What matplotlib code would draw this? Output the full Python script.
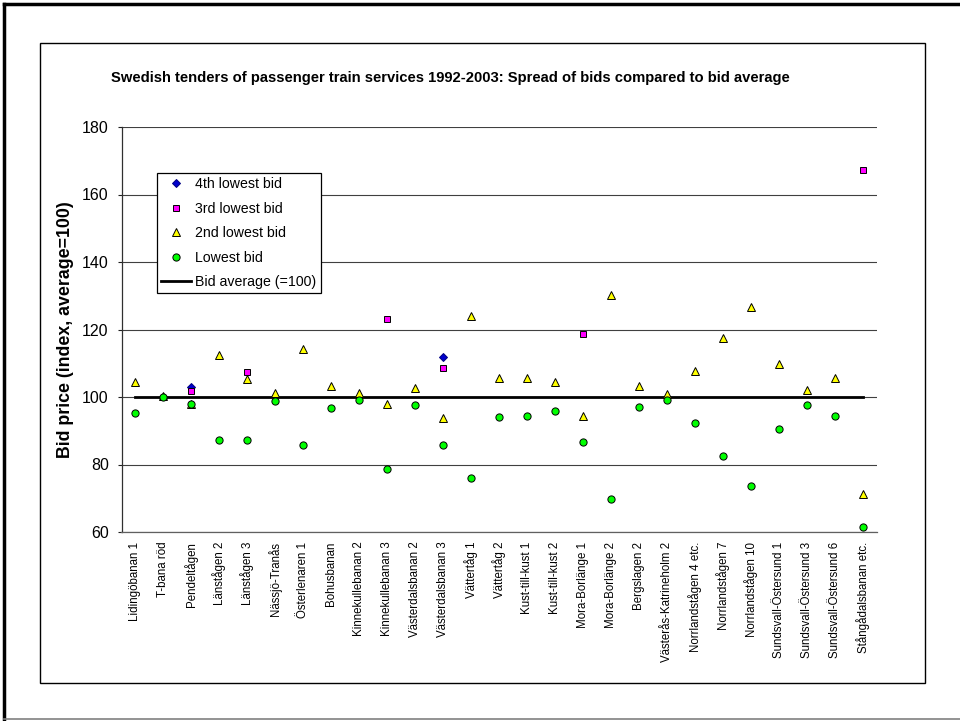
import numpy as np
import matplotlib
matplotlib.use("Agg")
import matplotlib.pyplot as plt
from matplotlib.lines import Line2D
from matplotlib.patches import Rectangle

plt.rcParams['font.family'] = ['Liberation Sans', 'DejaVu Sans']

categories = ["Lidingöbanan 1", "T-bana röd", "Pendeltågen", "Länstågen 2", "Länstågen 3",
              "Nässjö-Tranås", "Österlenaren 1", "Bohusbanan", "Kinnekullebanan 2",
              "Kinnekullebanan 3", "Västerdalsbanan 2", "Västerdalsbanan 3", "Vättertåg 1",
              "Vättertåg 2", "Kust-till-kust 1", "Kust-till-kust 2", "Mora-Borlänge 1",
              "Mora-Borlänge 2", "Bergslagen 2", "Västerås-Katrineholm 2", "Norrlandstågen 4 etc.",
              "Norrlandstågen 7", "Norrlandstågen 10", "Sundsvall-Östersund 1",
              "Sundsvall-Östersund 3", "Sundsvall-Östersund 6", "Stångådalsbanan etc."]

nan = np.nan
lowest_bid = [95.4, 99.9, 97.8, 87.4, 87.4, 98.7, 85.7, 96.7, 99.1, 78.8, 97.5, 85.7, 75.9, 94.1,
              94.4, 95.8, 86.7, 69.7, 97.0, 99.0, 92.4, 82.4, 73.6, 90.4, 97.6, 94.5, 61.6]
second_lowest = [104.4, 100.4, 97.9, 112.3, 105.4, 101.2, 114.1, 103.2, 101.1, 98.0, 102.8, 93.8,
                 124.0, 105.7, 105.7, 104.3, 94.5, 130.3, 103.2, 100.8, 107.7, 117.6, 126.6,
                 109.7, 102.2, 105.7, 71.2]
third_lowest = [nan, nan, 101.7, nan, 107.3, nan, nan, nan, nan, 123.0, nan, 108.7, nan, nan,
                nan, nan, 118.6, nan, nan, nan, nan, nan, nan, nan, nan, nan, 167.4]
fourth_lowest = [nan, nan, 103.0, nan, nan, nan, nan, nan, nan, nan, nan, 111.8, nan, nan,
                 nan, nan, nan, nan, nan, nan, nan, nan, nan, nan, nan, nan, nan]
bid_average = [100] * len(categories)

y_ticks = [60, 80, 100, 120, 140, 160, 180]

W, H = 960, 721
fig = plt.figure(figsize=(W / 100, H / 100), dpi=100)

# outer frame and chart area border
fig.add_artist(Line2D([4 / W, 4 / W], [1 - 4 / H, 1 - 719 / H], color='black', lw=2.5,
                      transform=fig.transFigure))
fig.add_artist(Line2D([4 / W, 1.0], [1 - 4 / H, 1 - 4 / H], color='black', lw=2.5,
                      transform=fig.transFigure))
fig.add_artist(Line2D([4 / W, 1.0], [1 - 719 / H, 1 - 719 / H], color='#808080', lw=1.2,
                      transform=fig.transFigure))
fig.add_artist(Rectangle((40 / W, 1 - 682.5 / H), (925 - 40) / W, (682.5 - 43) / H,
                         fill=False, edgecolor='black', lw=1.0, transform=fig.transFigure))

left, right, top, bottom = 121.5, 876.7, 127.0, 532.0
ax = fig.add_axes([left / W, 1 - bottom / H, (right - left) / W, (bottom - top) / H])

x = np.arange(len(categories))
ax.plot(x, bid_average, color='black', lw=2.0, zorder=2, label='Bid average (=100)')
h4, = ax.plot(x, fourth_lowest, ls='none', marker='D', ms=4.2, mfc='#0000CC', mec='#000080',
              mew=0.7, zorder=3, label='4th lowest bid')
h3, = ax.plot(x, third_lowest, ls='none', marker='s', ms=5.0, mfc='#FF00FF', mec='black',
              mew=0.7, zorder=4, label='3rd lowest bid')
h2, = ax.plot(x, second_lowest, ls='none', marker='^', ms=5.6, mfc='#FFFF00', mec='black',
              mew=0.7, zorder=5, label='2nd lowest bid')
h1, = ax.plot(x, lowest_bid, ls='none', marker='o', ms=5.2, mfc='#00FF00', mec='black',
              mew=0.7, zorder=6, label='Lowest bid')
hl = Line2D([], [], color='black', lw=2.0)

ax.set_xlim(-0.5, len(categories) - 0.5)
ax.set_ylim(60, 180)
ax.set_yticks(y_ticks)
ax.set_yticklabels([str(v) for v in y_ticks], fontsize=11.5)
ax.set_xticks(x)
ax.set_xticklabels(categories, rotation=90, fontsize=8.3, va='top', ha='center')
ax.tick_params(axis='x', length=0, pad=7)
ax.tick_params(axis='y', length=3.2, width=0.8, pad=6, direction='out', color='#202020')
ax.grid(axis='y', color='#404040', lw=0.8)
ax.set_axisbelow(True)
for s in ['top', 'right']:
    ax.spines[s].set_visible(False)
ax.spines['left'].set_color('#303030')
ax.spines['bottom'].set_color('#606060')
ax.spines['left'].set_linewidth(0.9)
ax.spines['bottom'].set_linewidth(0.9)

fig.text(450 / W, 1 - 78 / H,
         "Swedish tenders of passenger train services 1992-2003: Spread of bids compared to bid average",
         ha='center', va='center', fontsize=10.6, fontweight='bold')
fig.text(65 / W, 1 - 330 / H, "Bid price (index, average=100)", rotation=90,
         ha='center', va='center', fontsize=12.8, fontweight='bold')

leg = fig.legend([h4, h3, h2, h1, hl],
                 ['4th lowest bid', '3rd lowest bid', '2nd lowest bid', 'Lowest bid',
                  'Bid average (=100)'],
                 loc='upper left', bbox_to_anchor=(157 / W, 1 - 173 / H),
                 bbox_transform=fig.transFigure, fontsize=10.2, frameon=True, fancybox=False,
                 edgecolor='black', framealpha=1, borderpad=0.3, labelspacing=0.74,
                 handlelength=2.1, handletextpad=0.3, borderaxespad=0)
leg.get_frame().set_linewidth(0.9)

fig.savefig("out.png", dpi=100)
